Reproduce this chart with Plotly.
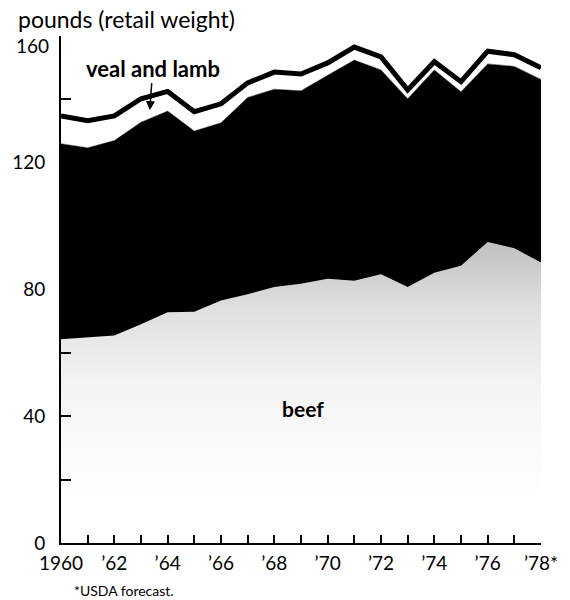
import plotly.graph_objects as go

years = list(range(1960, 1979))
beef = [64.3, 64.8, 65.5, 69.0, 72.8, 73.0, 76.5, 78.5, 80.8, 81.8, 83.4, 82.8, 84.8, 80.8, 85.3, 87.5, 95.0, 93.0, 88.5]
pork = [61.7, 59.9, 61.5, 63.8, 63.5, 57.0, 56.1, 62.1, 62.4, 60.9, 64.2, 69.6, 64.5, 59.4, 64.0, 54.9, 56.2, 57.4, 57.8]
veal_lamb = [8.8, 8.6, 7.8, 7.4, 6.2, 6.1, 6.0, 4.6, 5.4, 5.3, 3.9, 4.1, 4.1, 2.8, 2.6, 3.2, 4.0, 3.7, 3.7]

x_tickvals = [1960, 1962, 1964, 1966, 1968, 1970, 1972, 1974, 1976, 1978]
x_ticktext = ["1960", "\u201962", "\u201964", "\u201966", "\u201968", "\u201970", "\u201972", "\u201974", "\u201976", "\u201978*"]
y_tickvals = [0, 40, 80, 120]
y_ticktext = ["0", "40", "80", "120"]

beef_pork = [b + p for b, p in zip(beef, pork)]
total = [bp + v for bp, v in zip(beef_pork, veal_lamb)]

FONT = "Lato"

fig = go.Figure()
fig.add_trace(go.Scatter(
    x=years, y=beef, mode="lines", line=dict(width=0, color="#c0c0c0"),
    fill="tozeroy",
    fillgradient=dict(type="vertical", start=15, stop=95,
                      colorscale=[[0, "rgb(255,255,255)"], [0.45, "rgb(243,243,243)"], [0.75, "rgb(222,222,222)"], [1, "rgb(192,192,192)"]]),
    hoverinfo="skip", showlegend=False))
fig.add_trace(go.Scatter(
    x=years, y=beef_pork, mode="lines", line=dict(width=0.5, color="black"),
    fill="tonexty", fillcolor="black", hoverinfo="skip", showlegend=False))
fig.add_trace(go.Scatter(
    x=years, y=total, mode="lines", line=dict(width=5, color="black"),
    fill="tonexty", fillcolor="white", hoverinfo="skip", showlegend=False))

fig.update_layout(
    width=570, height=600,
    margin=dict(l=52, r=15, t=36, b=57),
    paper_bgcolor="white", plot_bgcolor="white",
    font=dict(family=FONT, color="black", size=18),
    xaxis=dict(range=[1960, 1978], tickvals=x_tickvals, ticktext=x_ticktext,
               ticks="inside", ticklen=8, tickwidth=2, tickcolor="black",
               minor=dict(dtick=1, tick0=1960, ticks="inside", ticklen=8, tickwidth=2, tickcolor="black"),
               showline=True, linecolor="black", linewidth=2, showgrid=False, zeroline=False,
               tickfont=dict(size=19, family=FONT), ticklabelstandoff=2,
               ticklabeloverflow="allow"),
    yaxis=dict(range=[0, 160], tickvals=y_tickvals, ticktext=y_ticktext,
               ticks="inside", ticklen=10, tickwidth=2, tickcolor="black",
               minor=dict(dtick=20, tick0=0, ticks="inside", ticklen=10, tickwidth=2, tickcolor="black"),
               showline=True, linecolor="black", linewidth=2, showgrid=False, zeroline=False,
               tickfont=dict(size=19, family=FONT), ticklabelstandoff=10),
)

fig.add_annotation(text="160", xref="paper", yref="paper",
                   x=(41-52)/503, y=(543-46)/507, xanchor="right", yanchor="middle",
                   showarrow=False, font=dict(size=19, family=FONT))
fig.add_annotation(text="pounds (retail weight)", xref="paper", yref="paper",
                   x=(5-52)/503, y=(543-19)/507, xanchor="left", yanchor="middle",
                   showarrow=False, font=dict(size=23, family=FONT))
fig.add_annotation(text="<b>veal and lamb</b>", xref="x", yref="y",
                   x=1963.33, y=136.6, ax=3, ay=-42, standoff=0,
                   showarrow=True, arrowhead=2, arrowsize=1.2, arrowwidth=1.5, arrowcolor="black",
                   font=dict(size=22, family=FONT))
fig.add_annotation(text="<b>beef</b>", xref="x", yref="y",
                   x=1969.09, y=42.6, xanchor="center", yanchor="middle",
                   showarrow=False, font=dict(size=21, family=FONT, weight=900))
fig.add_annotation(text="*USDA forecast.", xref="paper", yref="paper",
                   x=(64-52)/503, y=(543-590)/507, xanchor="left", yanchor="middle",
                   showarrow=False, font=dict(size=14, family=FONT))

fig.write_html("out.html")
